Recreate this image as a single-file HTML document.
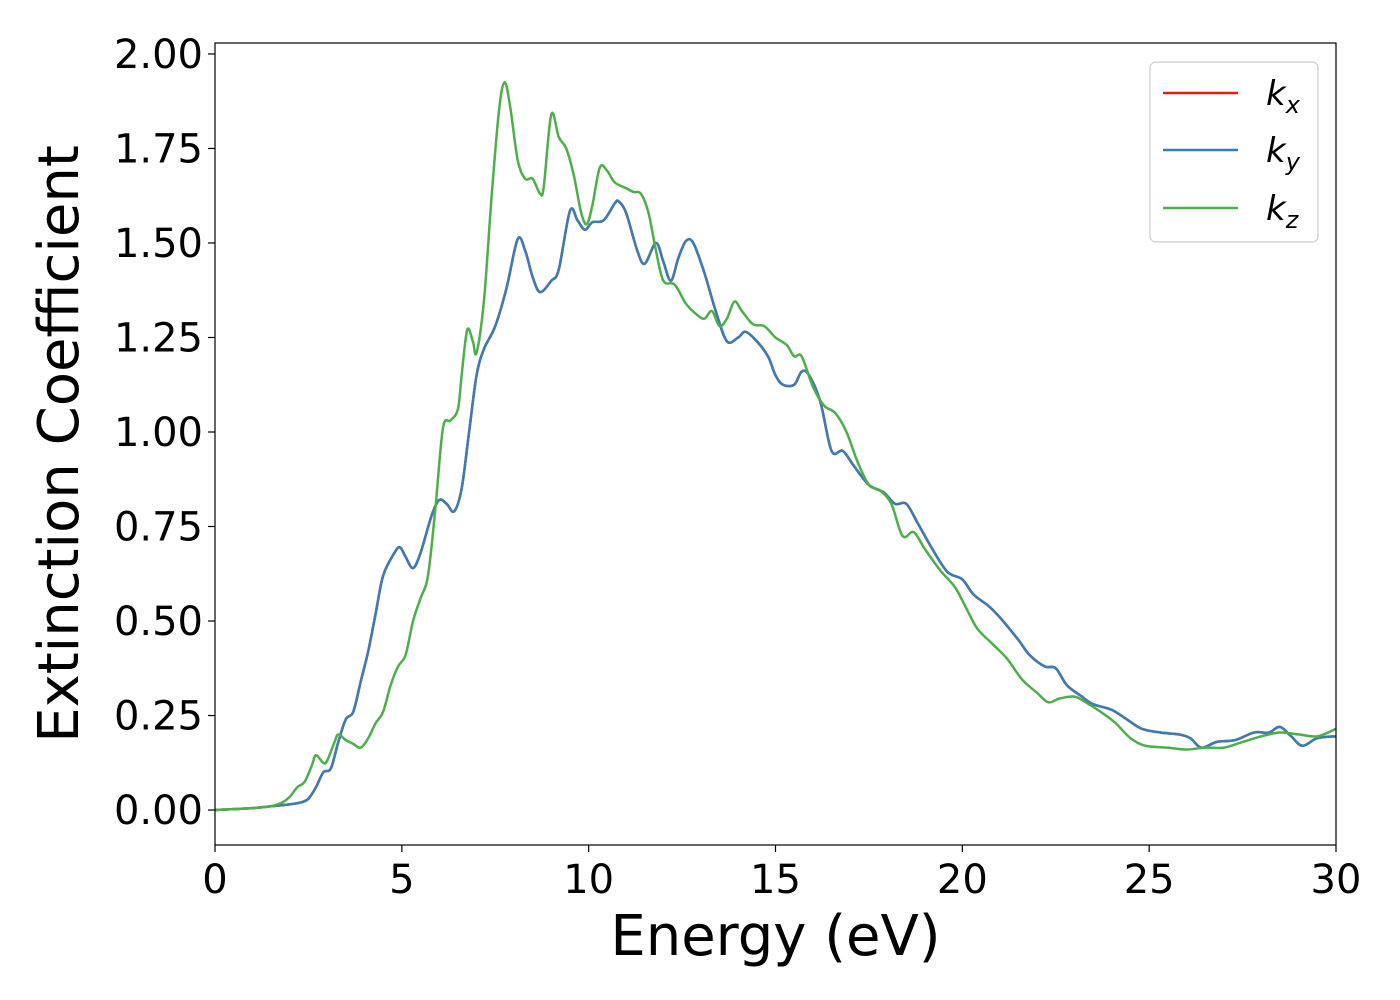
<!DOCTYPE html>
<html><head><meta charset="utf-8"><style>
body{margin:0;background:#fff;}
svg{display:block;font-family:"DejaVu Sans","Liberation Sans",sans-serif;}
</style></head><body>
<svg id="chart" width="1400" height="1000" viewBox="0 0 1400 1000"></svg>
<script>
const energyBlue=[0,1,1.5,2,2.3,2.5,2.7,2.9,3.1,3.3,3.5,3.7,3.9,4.1,4.3,4.5,4.8,4.95,5.1,5.3,5.5,5.8,6.0,6.2,6.4,6.6,6.8,7.0,7.2,7.5,7.8,8.1,8.3,8.5,8.7,9.0,9.2,9.5,9.7,9.9,10.1,10.4,10.7,10.8,11.0,11.3,11.5,11.8,12.0,12.2,12.4,12.6,12.8,13.1,13.4,13.7,14.0,14.2,14.5,14.8,15.0,15.2,15.5,15.7,15.9,16.2,16.5,16.8,17.1,17.5,17.9,18.2,18.5,18.8,19.2,19.6,20.0,20.3,20.7,21.0,21.5,21.8,22.2,22.5,22.8,23.2,23.5,24.0,24.4,24.8,25.3,25.8,26.1,26.4,26.8,27.3,27.8,28.2,28.5,28.8,29.1,29.5,30];
const kxy=[0,0.005,0.01,0.015,0.02,0.03,0.06,0.1,0.11,0.18,0.24,0.26,0.34,0.42,0.52,0.62,0.68,0.695,0.67,0.64,0.68,0.78,0.82,0.81,0.79,0.85,1.0,1.15,1.22,1.28,1.38,1.51,1.48,1.41,1.37,1.40,1.43,1.585,1.56,1.535,1.555,1.56,1.605,1.61,1.58,1.48,1.445,1.50,1.45,1.40,1.46,1.505,1.50,1.42,1.32,1.24,1.25,1.265,1.24,1.20,1.15,1.125,1.125,1.16,1.15,1.08,0.95,0.95,0.91,0.86,0.84,0.81,0.81,0.76,0.69,0.63,0.61,0.57,0.54,0.51,0.45,0.41,0.38,0.375,0.33,0.30,0.28,0.265,0.24,0.215,0.205,0.20,0.19,0.165,0.18,0.185,0.205,0.205,0.22,0.195,0.17,0.19,0.195];
const energyZ=[0,1,1.5,1.8,2.0,2.2,2.4,2.6,2.7,2.9,3.0,3.2,3.3,3.5,3.7,3.9,4.1,4.3,4.5,4.7,4.9,5.1,5.3,5.5,5.7,5.9,6.1,6.3,6.5,6.6,6.75,6.9,7.0,7.2,7.4,7.6,7.75,7.9,8.1,8.3,8.5,8.7,8.8,9.0,9.2,9.4,9.6,9.8,9.95,10.1,10.3,10.5,10.7,11.0,11.2,11.4,11.6,11.8,12.0,12.3,12.6,12.9,13.1,13.3,13.5,13.7,13.9,14.1,14.4,14.7,15.0,15.3,15.5,15.7,16.0,16.3,16.6,16.9,17.2,17.5,17.8,18.1,18.4,18.7,19.0,19.4,19.8,20.1,20.4,20.8,21.2,21.6,22.0,22.3,22.6,23.0,23.3,23.7,24.1,24.5,24.9,25.5,26.0,26.5,27.0,27.5,28.0,28.5,29.0,29.5,30];
const kz=[0,0.005,0.01,0.02,0.035,0.06,0.075,0.12,0.145,0.125,0.13,0.18,0.2,0.185,0.175,0.165,0.19,0.23,0.26,0.33,0.38,0.41,0.5,0.56,0.62,0.8,1.01,1.03,1.06,1.15,1.27,1.24,1.21,1.35,1.62,1.85,1.925,1.86,1.72,1.67,1.67,1.63,1.65,1.84,1.78,1.75,1.68,1.58,1.55,1.60,1.70,1.69,1.66,1.645,1.635,1.63,1.58,1.48,1.40,1.39,1.34,1.31,1.30,1.32,1.28,1.30,1.345,1.32,1.285,1.28,1.25,1.23,1.20,1.20,1.12,1.07,1.05,1.00,0.92,0.86,0.845,0.81,0.725,0.735,0.69,0.635,0.59,0.535,0.48,0.44,0.40,0.345,0.31,0.285,0.295,0.30,0.285,0.26,0.23,0.19,0.17,0.165,0.16,0.165,0.165,0.18,0.195,0.205,0.2,0.195,0.215];
const xTicks=[0,5,10,15,20,25,30];
const yTicks=[0,0.25,0.5,0.75,1.0,1.25,1.5,1.75,2.0];

const L=215,R=1336,T=43,B=845,xmin=0,xmax=30,ymin=-0.0925,ymax=2.029;
const X=v=>L+(v-xmin)/(xmax-xmin)*(R-L);
const Y=v=>B-(v-ymin)/(ymax-ymin)*(B-T);
const svg=document.getElementById('chart');
const NS='http://www.w3.org/2000/svg';
function mk(tag,attrs,parent){const e=document.createElementNS(NS,tag);for(const k in attrs)e.setAttribute(k,attrs[k]);(parent||svg).appendChild(e);return e;}
function pathD(xs,ys){const p=xs.map((x,i)=>[X(x),Y(ys[i])]);let d='M'+p[0][0]+','+p[0][1];
for(let i=0;i<p.length-1;i++){const p0=p[i-1]||p[i],p1=p[i],p2=p[i+1],p3=p[i+2]||p2;
const c1=[p1[0]+(p2[0]-p0[0])/6,p1[1]+(p2[1]-p0[1])/6],c2=[p2[0]-(p3[0]-p1[0])/6,p2[1]-(p3[1]-p1[1])/6];
d+=' C'+c1+' '+c2+' '+p2;}return d;}
const clip=mk('clipPath',{id:'pc'});mk('rect',{x:L,y:T,width:R-L,height:B-T},clip);
const g=mk('g',{'clip-path':'url(#pc)'});
let s=mk('path',{d:pathD(energyBlue,kxy),fill:'none',stroke:'#e41a1c','stroke-width':2.5},g);

s=mk('path',{d:pathD(energyBlue,kxy),fill:'none',stroke:'#377eb8','stroke-width':2.5},g);

s=mk('path',{d:pathD(energyZ,kz),fill:'none',stroke:'#4daf4a','stroke-width':2.5},g);

const fr=mk('rect',{x:L,y:T,width:R-L,height:B-T,fill:'none',stroke:'#000','stroke-width':1.2});

xTicks.forEach(v=>{mk('line',{x1:X(v),x2:X(v),y1:B,y2:B+7,stroke:'#000','stroke-width':1.2});
const t=mk('text',{x:X(v),y:B+48,'text-anchor':'middle','font-size':40});t.textContent=v;
});
yTicks.forEach(v=>{mk('line',{x1:L-7,x2:L,y1:Y(v),y2:Y(v),stroke:'#000','stroke-width':1.2});
const t=mk('text',{x:L-12,y:Y(v)+14,'text-anchor':'end','font-size':40});t.textContent=v.toFixed(2);
});
let t=mk('text',{x:(L+R)/2,y:955,'text-anchor':'middle','font-size':56});t.textContent='Energy (eV)';

t=mk('text',{x:78,y:(T+B)/2,'text-anchor':'middle','font-size':56,transform:'rotate(-90 78 '+(T+B)/2+')'});t.textContent='Extinction Coefficient';

const lg=mk('g',{});
mk('rect',{x:1150,y:62,width:168,height:180,rx:6,fill:'#fff',stroke:'#ccc','stroke-width':1.2},lg);
[['#e41a1c','x',93],['#377eb8','y',150],['#4daf4a','z',208]].forEach(([c,sub,y])=>{
mk('line',{x1:1163,x2:1238,y1:y,y2:y,stroke:c,'stroke-width':2.5},lg);
const tx=mk('text',{x:1266,y:y+12,'font-size':34,'font-style':'italic'},lg);

tx.innerHTML='k<tspan font-size="24" dy="8">'+sub+'</tspan>';});
</script>
</body></html>
